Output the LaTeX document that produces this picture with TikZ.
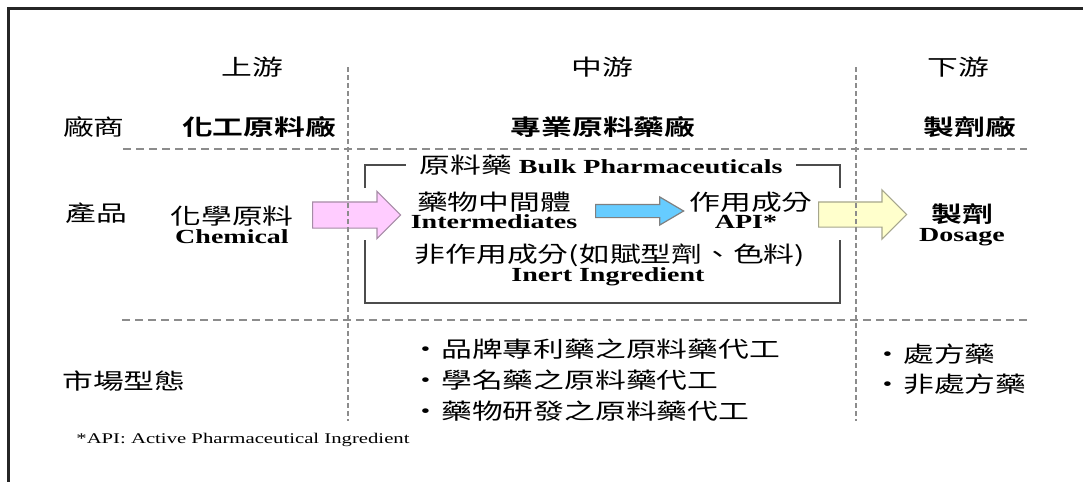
\documentclass[tikz,border=0pt]{standalone}
\usepackage{fontspec}
\setmainfont{Liberation Serif}[FakeStretch=1.4]
\newfontfamily\cjk{Noto Sans CJK TC}[BoldFont={Noto Sans CJK TC Bold}, FakeStretch=1.4]
\usetikzlibrary{shapes.arrows}

\definecolor{pinkfill}{HTML}{FFCCFF}
\definecolor{pinkline}{HTML}{A68CA6}
\definecolor{bluefill}{HTML}{66CCFF}
\definecolor{blueline}{HTML}{808080}
\definecolor{yelfill}{HTML}{FFFFCC}
\definecolor{yelline}{HTML}{A6A68C}

\begin{document}
\begin{tikzpicture}[x=0.5pt, y=-0.5pt,
    zh/.style={font=\cjk\fontsize{11}{13}\selectfont, inner sep=0pt},
    zhb/.style={font=\cjk\bfseries\fontsize{11}{13}\selectfont, inner sep=0pt},
    en/.style={font=\bfseries\fontsize{10}{12}\selectfont, inner sep=0pt},
    hdash/.style={draw=gray!90, line width=1pt, dash pattern=on 4pt off 2.5pt},
    vdash/.style={draw=gray!90, line width=1pt, dash pattern=on 2.5pt off 1.5pt},
    blk/.style={single arrow, draw, line width=0.6pt, anchor=tail, inner xsep=0pt, minimum height=44pt}]
    \useasboundingbox (0,0) rectangle (1083,482);
    \draw[line width=1.3pt, black!85] (1083,8.5) -- (8.5,8.5) -- (8.5,482);

    \node[blk, fill=pinkfill, draw=pinkline, inner ysep=6.25pt, single arrow head extend=5.25pt] (toMid) at (312,215) {};
    \node[blk, fill=bluefill, draw=blueline, inner ysep=3pt, single arrow head extend=3.75pt, single arrow tip angle=61] (toApi) at (595,211) {};
    \node[blk, fill=yelfill, draw=yelline, inner ysep=6pt, single arrow head extend=6pt] (toDose) at (818,214.5) {};

    \draw[hdash] (123,149) -- (1027,149);
    \draw[hdash] (122,320) -- (1028,320);
    \draw[vdash] (348,67) -- (348,421);
    \draw[vdash] (856,67) -- (856,421);

    \draw[black!70, line width=1pt] (365,188) -- (365,165) -- (840,165) -- (840,188);
    \draw[black!70, line width=1pt] (365,240) -- (365,303) -- (840,303) -- (840,240);
    \node[fill=white, inner xsep=6.5pt, inner ysep=1pt, font=\bfseries\fontsize{10}{12}\selectfont] (bulk) at (601,165) {{\cjk\mdseries\fontsize{11}{13}\selectfont 原料藥}\ Bulk Pharmaceuticals};

    \node[zh] (up) at (252,67) {上游};
    \node[zh] (mid) at (602,67) {中游};
    \node[zh] (down) at (958,67) {下游};

    \node[zh] (firm) at (94,127) {廠商};
    \node[zhb] (chemFirm) at (259,127) {化工原料廠};
    \node[zhb] (apiFirm) at (603,127) {專業原料藥廠};
    \node[zhb] (doseFirm) at (970,127) {製劑廠};

    \node[zh] (prod) at (96,213) {產品};
    \node[zh] (chem) at (232,216) {化學原料};
    \node[en] (chemEn) at (232,237) {Chemical};
    \node[zh] (inter) at (494,202) {藥物中間體};
    \node[en] (interEn) at (494,222) {Intermediates};
    \node[zh] (api) at (751,202) {作用成分};
    \node[en] (apiEn) at (746,222) {API*};
    \node[zh] (inert) at (610,255) {非作用成分(如賦型劑、色料)};
    \node[en] (inertEn) at (608,277) {Inert Ingredient};
    \node[zhb] (dose) at (962,214) {製劑};
    \node[en] (doseEn) at (962,237) {Dosage};

    \node[zh] (market) at (124,381) {市場型態};
    \node[zh, anchor=west] (oem1) at (410,349) {・品牌專利藥之原料藥代工};
    \node[zh, anchor=west] (oem2) at (410,380) {・學名藥之原料藥代工};
    \node[zh, anchor=west] (oem3) at (410,411) {・藥物研發之原料藥代工};
    \node[zh, anchor=west] (rx) at (872,354) {・處方藥};
    \node[zh, anchor=west] (otc) at (872,384) {・非處方藥};

    \node[anchor=west, inner sep=0pt, font=\fontsize{7.4}{9}\selectfont] (note) at (76,440) {*API: Active Pharmaceutical Ingredient};
\end{tikzpicture}
\end{document}
